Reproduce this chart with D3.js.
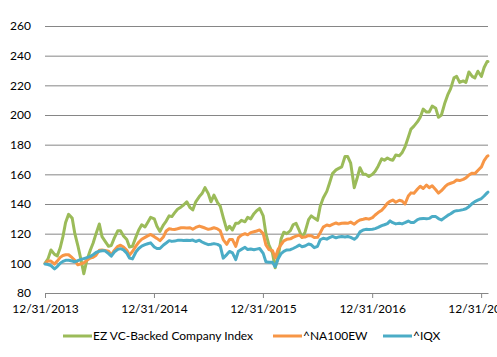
<!DOCTYPE html>
<html>
<head>
<meta charset="utf-8">
<script src="https://cdn.jsdelivr.net/npm/d3@7"></script>
<style>
  html, body { margin: 0; padding: 0; background: #fff; }
  svg { display: block; }
  text { font-family: Lato, "Open Sans", sans-serif; }
</style>
</head>
<body>
<svg id="chart" width="497" height="357"></svg>
<script>
// ---- data ----
const dates = [
"2013-12-31","2014-01-10","2014-01-20",
"2014-02-01","2014-02-10","2014-02-20","2014-03-01","2014-03-10","2014-03-20","2014-04-01","2014-04-10","2014-04-20",
"2014-05-01","2014-05-10","2014-05-20","2014-06-01","2014-06-10","2014-06-20","2014-07-01","2014-07-10","2014-07-20",
"2014-08-01","2014-08-10","2014-08-20","2014-09-01","2014-09-10","2014-09-20","2014-10-01","2014-10-10","2014-10-20",
"2014-11-01","2014-11-10","2014-11-20","2014-12-01","2014-12-10","2014-12-20",
"2015-01-01","2015-01-10","2015-01-20","2015-02-01","2015-02-10","2015-02-20","2015-03-01","2015-03-10","2015-03-20",
"2015-04-01","2015-04-10","2015-04-20","2015-05-01","2015-05-10","2015-05-20","2015-06-01","2015-06-10","2015-06-20",
"2015-07-01","2015-07-10","2015-07-20","2015-08-01","2015-08-10","2015-08-20","2015-09-01","2015-09-10","2015-09-20",
"2015-10-01","2015-10-10","2015-10-20","2015-11-01","2015-11-10","2015-11-20","2015-12-01","2015-12-10","2015-12-20",
"2016-01-01","2016-01-10","2016-01-20","2016-02-01","2016-02-10","2016-02-20","2016-03-01","2016-03-10","2016-03-20",
"2016-04-01","2016-04-10","2016-04-20","2016-05-01","2016-05-10","2016-05-20","2016-06-01","2016-06-10","2016-06-20",
"2016-07-01","2016-07-10","2016-07-20","2016-08-01","2016-08-10","2016-08-20","2016-09-01","2016-09-10","2016-09-20",
"2016-10-01","2016-10-10","2016-10-20","2016-11-01","2016-11-10","2016-11-20","2016-12-01","2016-12-10","2016-12-20",
"2017-01-01","2017-01-10","2017-01-20","2017-02-01","2017-02-10","2017-02-20","2017-03-01","2017-03-10","2017-03-20",
"2017-04-01","2017-04-10","2017-04-20","2017-05-01","2017-05-10","2017-05-20","2017-06-01","2017-06-10","2017-06-20",
"2017-07-01","2017-07-10","2017-07-20","2017-08-01","2017-08-10","2017-08-20","2017-09-01","2017-09-10","2017-09-20",
"2017-10-01","2017-10-10","2017-10-20","2017-11-01","2017-11-10","2017-11-20","2017-12-01","2017-12-10","2017-12-20",
"2018-01-01","2018-01-10","2018-01-20","2018-01-23"
];

const ezIndex = [
100,103,109,
106,105,110.5, 118,127.5,133, 130.5,120,112,
102,93,102, 109,113.5,120, 126.5,118,115,
111.5,112,117, 122,122,118.5, 116,111,111.5,
118,122.5,126, 124.5,127.5,131,
130,125,121.5, 126,128.5,132, 131.5,134,136.5,
138,139.5,141.5, 137.5,136,141.5, 145,147,151,
147,141.5,146, 141,138.5,131, 122.5,125,122.5,
127,127,129, 128,131,130, 133.5,135.5,137,
132,120,112.5, 107,97,104.5, 116.5,121,120,
122,126,127, 122,117.5,121, 129.5,132,130.5,
129,138.5,144, 148.5,154,160.5, 163,164,165,
172,172,167.5, 151,157,164.5, 160,160,158.5,
160,162,165.5, 170.5,169.5,171, 170,169.5,173,
172.5,174.5,178.5, 185,190.5,192.5, 195.5,198.5,204,
202,202,206, 204.5,198.5,200, 208.5,213.5,217.8,
225,226,222, 223,222,229, 226,225,229.5,
226,232,236,236
];

const na100ew = [
100,101.5,101.5,
99.5,101.5,104, 105.3,105.8,105.8, 103.8,102,99,
99.7,100.3,102, 103.6,104,105.5, 108.8,109,108.7,
108.2,105.6,108.7, 111.5,112.2,111, 108.8,105.5,108,
111.8,114.2,116.2, 117.5,118.5,119.5,
118,116.8,115.3, 118,121.8,123.3, 123,122.8,123.3,
124,124,123.8, 124,123,124.2, 125.1,124.5,123.8,
122.9,123.3,124, 123.2,122,116, 112.8,116,116,
111.4,117.3,119, 120,119.2,120.7, 121.3,121.8,122.5,
120,112.4,109.3, 108.6,103.6,109.5, 112.7,115.2,116.2,
116.5,117.5,118.3, 119,117.5,117.7, 118.8,118.6,117.4,
117.5,120.6,124.4, 125.8,125.3,126.2, 127.2,126.5,127,
127.2,127,127.8, 126.4,128,129.2, 129.7,130.2,129.8,
130.8,132.6,134.2, 135.8,137.8,140.5, 141.8,142.7,141.2,
142.5,142,140, 145.4,147.5,147.3, 150.1,152,150.5,
152.8,151,152.3, 149.6,147.3,149, 151.7,153.2,154,
154.8,156.2,155.8, 156.6,157.6,159.5, 160.8,160.5,162.6,
165,169.3,172.2,172.5
];

const iqx = [
99.5,99.2,98.5,
96.3,97.8,100, 101.3,102,102.1, 101.6,101,101.8,
102.7,103.2,103.8, 104.7,105.8,107.3, 108.2,108.5,108.4,
106.5,104.8,107.6, 109.4,109.9,109.1, 106.8,103.6,103,
107.8,110,111.6, 112.6,113.2,113.8,
111,110,110, 112.4,113.7,115.3, 114.8,115,115.5,
115.5,115.4,115.6, 115.4,115.7,114.7, 115.6,114.4,113.4,
112.6,112.9,113.3, 112.8,111.8,103.5, 105.9,108,107,
102.5,108.2,109.4, 110.8,109.3,109.7, 109.2,109.6,110,
106.7,101,100.7, 100.7,97.8,103, 106.6,108.1,109,
109.2,110,111, 112.3,111.2,111.7, 113,112.5,110.6,
111.5,115.9,116.9, 116.3,117.3,118.2, 117.2,117.8,118.1,
117.8,118.1,117.5, 116.2,117.7,121.2, 122.5,122.9,122.8,
123,123.4,124.2, 125.4,126,126.8, 128.6,127.4,126.6,
127,126.6,127.4, 128.5,127.5,127.6, 129.5,130.1,130.3,
130,130.3,131.6, 131.5,130.2,129.2, 131,132.3,133.4,
135,135.5,135.7, 136.2,136.8,138.2, 140.3,141.6,142.6,
143.7,145.4,147.5,148
];

const seriesNames = ["EZ VC-Backed Company Index", "^NA100EW", "^IQX"];
const seriesValues = [ezIndex, na100ew, iqx];
const seriesColors = ["#9BBB59", "#F79646", "#4BACC6"];
const yTicks = [80, 100, 120, 140, 160, 180, 200, 220, 240, 260];
const xTickDates = ["2013-12-31", "2014-12-31", "2015-12-31", "2016-12-31", "2017-12-31"];

// ---- drawing ----
(function () {
  const parse = d3.timeParse("%Y-%m-%d");
  const fmt = d3.timeFormat("%m/%d/%Y");
  const svg = d3.select("#chart");
  const plotL = 45, plotR = 488, plotT = 26, plotB = 293;

  const x = d3.scaleTime()
    .domain([parse("2013-12-31"), parse("2018-01-23")])
    .range([plotL, plotR]);
  const y = d3.scaleLinear().domain([80, 260]).range([plotB, plotT]);

  // y axis with gridlines
  const yAxis = svg.append("g")
    .attr("transform", `translate(${plotL},0)`)
    .call(d3.axisLeft(y).tickValues(yTicks).tickSize(-(plotR - plotL)).tickPadding(14));
  yAxis.select(".domain").remove();
  yAxis.selectAll(".tick line").attr("stroke", "#868686").attr("stroke-width", 1);
  yAxis.selectAll(".tick text").attr("font-size", 12).attr("fill", "#000")
    .style("font-family", "Lato, 'Open Sans', sans-serif");

  // x axis
  const xAxis = svg.append("g")
    .attr("transform", `translate(0,${plotB})`)
    .call(d3.axisBottom(x).tickValues(xTickDates.map(parse)).tickFormat(fmt)
      .tickSizeInner(5).tickSizeOuter(0).tickPadding(6));
  xAxis.select(".domain").attr("stroke", "#868686");
  xAxis.selectAll(".tick line").attr("stroke", "#868686");
  xAxis.selectAll(".tick text").attr("font-size", 12).attr("fill", "#000")
    .style("font-family", "Lato, 'Open Sans', sans-serif");

  // series lines
  const parsedDates = dates.map(parse);
  seriesValues.forEach((vals, i) => {
    const pts = vals.map((v, j) => [parsedDates[j], v]).filter(p => p[0]);
    svg.append("path")
      .datum(pts)
      .attr("fill", "none")
      .attr("stroke", seriesColors[i])
      .attr("stroke-width", 3)
      .attr("stroke-linejoin", "round")
      .attr("stroke-linecap", "round")
      .attr("d", d3.line().x(d => x(d[0])).y(d => y(d[1])));
  });

  // legend
  const legendX = [63, 273, 383];
  const legendY = 336;
  const lg = svg.append("g");
  seriesNames.forEach((name, i) => {
    lg.append("line")
      .attr("x1", legendX[i]).attr("x2", legendX[i] + 29)
      .attr("y1", legendY).attr("y2", legendY)
      .attr("stroke", seriesColors[i]).attr("stroke-width", 3);
    lg.append("text")
      .attr("x", legendX[i] + 30).attr("y", legendY + 4)
      .attr("font-size", 12).attr("fill", "#000")
      .text(name);
  });
})();
</script>
</body>
</html>
